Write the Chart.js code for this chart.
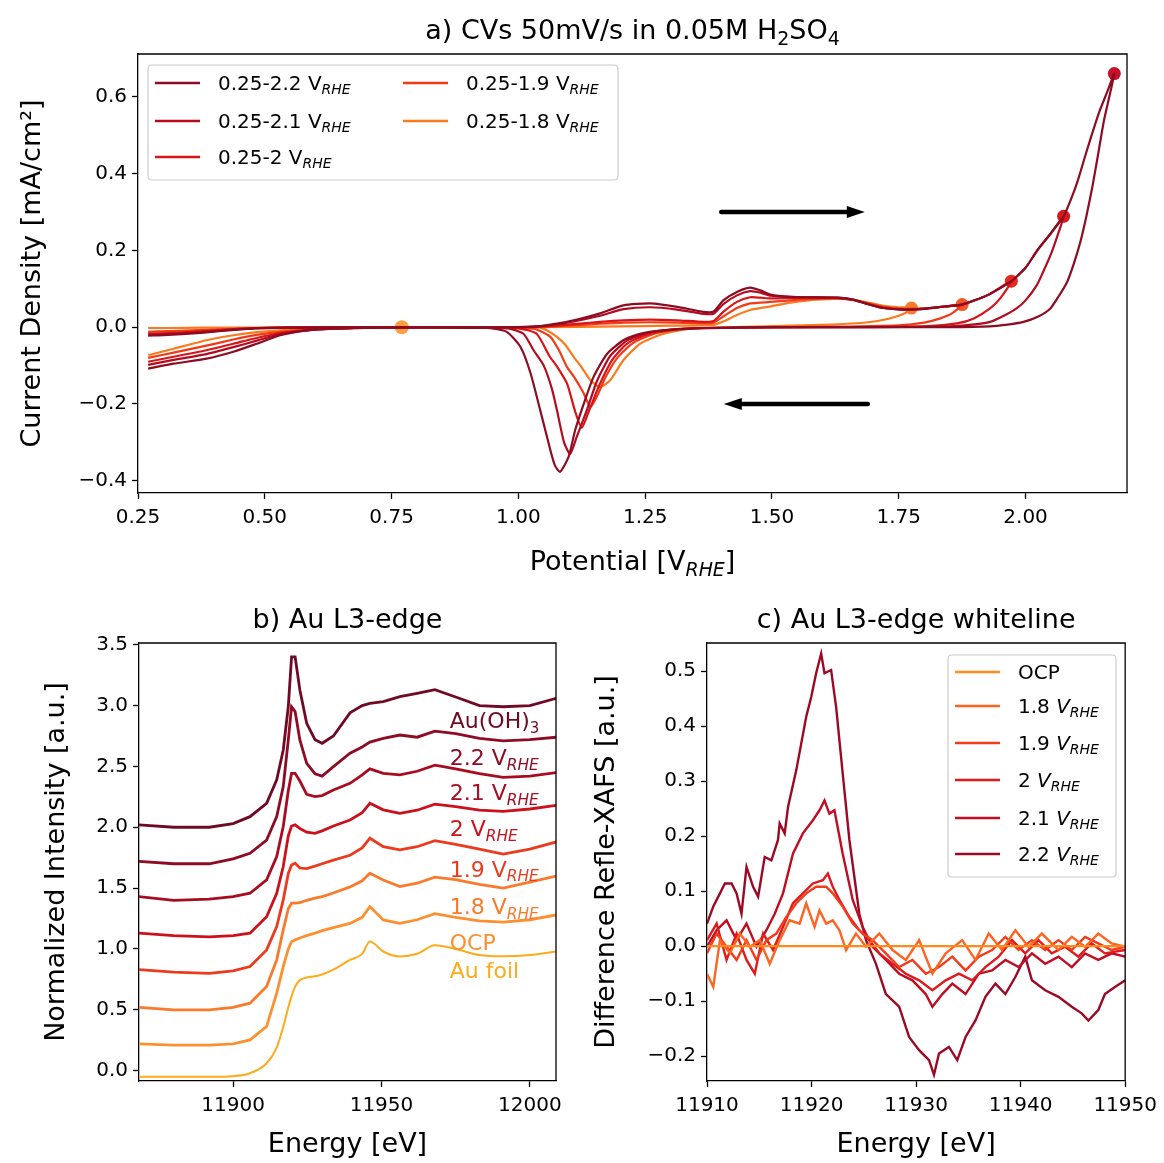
<!DOCTYPE html>
<html><head><meta charset="utf-8">
<script src="https://cdn.jsdelivr.net/npm/chart.js@4"></script>
<style>
html,body{margin:0;padding:0;background:#fff;}
#wrap{position:relative;width:1164px;height:1163px;overflow:hidden;}
canvas{position:absolute;left:0;top:0;}
</style></head><body>
<div id="wrap">
<canvas id="ca" width="1164" height="1163"></canvas>
<canvas id="cb" width="1164" height="1163"></canvas>
<canvas id="cc" width="1164" height="1163"></canvas>
</div>
<script>
// ---------------- Panel a: cyclic voltammograms ----------------
const cv22V = [0.27,0.31,0.38,0.44,0.48,0.55,0.7,0.9,1.0,1.036,1.07,1.109,1.161,1.207,1.26,1.313,1.365,1.385,1.404,1.431,1.457,1.477,1.497,1.536,1.58,1.63,1.66,1.69,1.72,1.76,1.8,1.84,1.875,1.924,1.972,2.0,2.023,2.05,2.075,2.09,2.102,2.115,2.128,2.145,2.16,2.175,
  2.165,2.154,2.143,2.131,2.12,2.108,2.095,2.082,2.065,2.049,2.025,1.996,1.96,1.93,1.85,1.7,1.5,1.35,1.286,1.24,1.207,1.175,1.148,1.129,1.112,1.099,1.082,1.072,1.063,1.043,1.024,1.004,0.977,0.94,0.8,0.7,0.635,0.583,0.53,0.484,0.438,0.385,0.32,0.27];
const cv22I = [-0.022,-0.02,-0.014,-0.007,-0.003,-0.001,0.0,0.0,0.0,0.002,0.008,0.018,0.036,0.057,0.062,0.053,0.04,0.041,0.07,0.092,0.103,0.096,0.085,0.079,0.078,0.077,0.072,0.06,0.05,0.046,0.048,0.054,0.059,0.083,0.12,0.155,0.2,0.245,0.289,0.335,0.378,0.435,0.491,0.56,0.61,0.661,
  0.6,0.535,0.45,0.361,0.29,0.222,0.165,0.118,0.08,0.049,0.028,0.014,0.006,0.002,0.0,0.0,0.0,-0.003,-0.008,-0.017,-0.034,-0.069,-0.13,-0.199,-0.268,-0.338,-0.377,-0.36,-0.32,-0.216,-0.12,-0.051,-0.012,-0.002,-0.001,-0.002,-0.004,-0.008,-0.021,-0.043,-0.064,-0.082,-0.095,-0.108];
const cv21V = [0.27,0.31,0.38,0.44,0.48,0.55,0.7,0.9,1.0,1.036,1.07,1.109,1.161,1.207,1.26,1.313,1.365,1.385,1.404,1.431,1.457,1.477,1.497,1.536,1.58,1.63,1.66,1.69,1.72,1.76,1.8,1.84,1.875,1.924,1.972,2.0,2.023,2.05,2.075,
  2.062,2.049,2.035,2.022,2.0,1.983,1.96,1.93,1.89,1.85,1.7,1.5,1.36,1.3,1.253,1.214,1.181,1.155,1.135,1.115,1.102,1.09,1.076,1.066,1.05,1.03,1.01,0.98,0.9,0.7,0.635,0.583,0.53,0.484,0.438,0.385,0.32,0.27];
const cv21I = [-0.02,-0.018,-0.012,-0.006,-0.003,-0.001,0.0,0.0,0.0,0.002,0.007,0.015,0.03,0.047,0.052,0.046,0.035,0.035,0.06,0.083,0.094,0.09,0.082,0.079,0.078,0.077,0.072,0.06,0.05,0.046,0.048,0.054,0.059,0.083,0.12,0.155,0.2,0.245,0.289,
  0.235,0.187,0.145,0.109,0.07,0.05,0.032,0.014,0.006,0.002,0.0,0.0,-0.002,-0.006,-0.015,-0.035,-0.075,-0.14,-0.216,-0.286,-0.33,-0.3,-0.216,-0.16,-0.1,-0.06,-0.017,-0.003,-0.001,-0.001,-0.004,-0.008,-0.018,-0.035,-0.052,-0.07,-0.085,-0.098];
const cv20V = [0.27,0.31,0.38,0.44,0.48,0.55,0.7,0.9,1.0,1.036,1.109,1.161,1.207,1.26,1.313,1.365,1.385,1.404,1.431,1.457,1.477,1.497,1.536,1.58,1.63,1.66,1.69,1.72,1.76,1.8,1.84,1.875,1.924,1.972,
  1.95,1.93,1.898,1.865,1.8,1.6,1.36,1.3,1.255,1.215,1.185,1.16,1.14,1.125,1.112,1.096,1.075,1.062,1.036,1.0,0.9,0.7,0.635,0.583,0.53,0.484,0.438,0.385,0.32,0.27];
const cv20I = [-0.017,-0.015,-0.01,-0.005,-0.002,-0.001,0.0,0.0,0.0,0.001,0.008,0.014,0.018,0.02,0.018,0.014,0.016,0.04,0.066,0.078,0.077,0.075,0.076,0.077,0.076,0.071,0.06,0.05,0.046,0.048,0.054,0.059,0.083,0.12,
  0.075,0.049,0.023,0.01,0.002,0.0,-0.002,-0.007,-0.018,-0.042,-0.085,-0.15,-0.215,-0.262,-0.22,-0.147,-0.1,-0.077,-0.017,-0.003,-0.001,-0.001,-0.004,-0.008,-0.015,-0.028,-0.043,-0.06,-0.077,-0.09];
const cv19V = [0.27,0.31,0.38,0.44,0.48,0.55,0.7,0.9,1.0,1.036,1.109,1.161,1.207,1.26,1.313,1.365,1.385,1.404,1.431,1.457,1.477,1.497,1.536,1.58,1.63,1.66,1.69,1.72,1.76,1.8,1.84,1.875,
  1.855,1.832,1.8,1.75,1.6,1.37,1.31,1.265,1.225,1.195,1.172,1.155,1.142,1.128,1.11,1.096,1.08,1.063,1.03,0.9,0.7,0.635,0.583,0.53,0.484,0.438,0.385,0.32,0.27];
const cv19I = [-0.012,-0.01,-0.007,-0.004,-0.002,-0.001,0.0,0.0,0.0,0.0,0.005,0.009,0.012,0.013,0.012,0.01,0.012,0.028,0.05,0.062,0.064,0.066,0.07,0.074,0.075,0.071,0.062,0.053,0.048,0.049,0.054,0.059,
  0.036,0.023,0.012,0.005,0.001,-0.002,-0.007,-0.018,-0.042,-0.08,-0.13,-0.18,-0.208,-0.17,-0.13,-0.104,-0.06,-0.025,-0.004,-0.001,-0.001,-0.003,-0.006,-0.012,-0.02,-0.032,-0.048,-0.066,-0.08];
const cv18V = [0.27,0.31,0.38,0.48,0.55,0.7,0.9,1.036,1.2,1.3,1.385,1.404,1.431,1.457,1.5,1.536,1.58,1.62,1.65,1.69,1.72,1.75,1.775,
  1.76,1.73,1.69,1.62,1.5,1.339,1.286,1.24,1.207,1.181,1.161,1.142,1.125,1.109,1.092,1.076,1.055,1.036,0.9,0.7,0.635,0.583,0.53,0.484,0.438,0.385,0.32,0.27];
const cv18I = [-0.002,-0.002,-0.001,-0.001,0.0,0.0,0.0,0.0,0.002,0.004,0.006,0.015,0.032,0.045,0.055,0.064,0.071,0.074,0.073,0.064,0.056,0.052,0.05,
  0.035,0.022,0.013,0.007,0.003,-0.004,-0.017,-0.043,-0.086,-0.138,-0.156,-0.138,-0.105,-0.077,-0.045,-0.025,-0.007,0.0,0.0,-0.001,-0.002,-0.004,-0.008,-0.013,-0.021,-0.034,-0.056,-0.073];
const cvLimitV = [2.175, 2.075, 1.972, 1.875, 1.775];
const cvLimitI = [0.661, 0.289, 0.12, 0.059, 0.05];
const ocpDotV = [0.77];
const ocpDotI = [0.0];
const cvNames = ['0.25-2.2', '0.25-2.1', '0.25-2', '0.25-1.9', '0.25-1.8'];
const cvXTicks = [0.25, 0.5, 0.75, 1.0, 1.25, 1.5, 1.75, 2.0];
const cvXTickLabels = ['0.25','0.50','0.75','1.00','1.25','1.50','1.75','2.00'];
const cvYTicks = [-0.4, -0.2, 0.0, 0.2, 0.4, 0.6];
const cvYTickLabels = ['\u22120.4','\u22120.2','0.0','0.2','0.4','0.6'];

// ---------------- Panel b: Au L3-edge XANES ----------------
const xanesE = [11868,11880,11892,11900,11905.7,11911.3,11914.7,11916.9,11918.6,11919.7,11920.9,11922.5,11924.8,11927.6,11930,11933.8,11939.4,11943.5,11946.1,11950.6,11956.2,11962,11968,11975,11983,11991,12000,12009];
const xanesAuOH3 = [2.02,2.00,2.00,2.03,2.087,2.197,2.389,2.635,2.99,3.40,3.40,3.128,2.854,2.72,2.69,2.75,2.94,3.0,3.018,3.032,3.073,3.10,3.13,3.07,3.0,2.99,3.0,3.06];
const xanes22 = [1.72,1.70,1.70,1.74,1.786,1.895,2.087,2.334,2.717,2.99,2.95,2.717,2.525,2.44,2.42,2.498,2.608,2.66,2.70,2.73,2.758,2.74,2.79,2.77,2.73,2.71,2.72,2.74];
const xanes21 = [1.43,1.40,1.41,1.43,1.458,1.568,1.76,2.006,2.3,2.443,2.443,2.38,2.27,2.252,2.26,2.306,2.361,2.43,2.48,2.443,2.43,2.46,2.51,2.48,2.44,2.41,2.42,2.45];
const xanes20 = [1.13,1.11,1.10,1.11,1.13,1.265,1.458,1.677,1.93,2.01,2.02,1.99,1.96,1.95,1.97,2.01,2.06,2.12,2.197,2.143,2.115,2.14,2.19,2.17,2.14,2.13,2.15,2.18];
const xanes19 = [0.83,0.81,0.80,0.82,0.855,0.992,1.184,1.403,1.62,1.69,1.704,1.665,1.66,1.68,1.70,1.73,1.77,1.83,1.91,1.841,1.814,1.84,1.89,1.86,1.82,1.78,1.82,1.88];
const xanes18 = [0.52,0.50,0.50,0.52,0.554,0.691,0.910,1.157,1.33,1.376,1.376,1.38,1.40,1.417,1.43,1.46,1.51,1.56,1.622,1.567,1.513,1.54,1.59,1.57,1.53,1.50,1.55,1.60];
const xanesOCP = [0.22,0.21,0.21,0.22,0.253,0.363,0.637,0.855,1.0,1.06,1.075,1.09,1.11,1.13,1.15,1.175,1.21,1.26,1.348,1.239,1.211,1.24,1.29,1.26,1.23,1.22,1.24,1.28];
const xanesAuFoil = [-0.05,-0.05,-0.05,-0.045,-0.021,0.061,0.19,0.36,0.52,0.61,0.69,0.745,0.765,0.775,0.79,0.83,0.91,0.96,1.061,0.979,0.938,0.96,1.03,1.0,0.95,0.94,0.95,0.98];
const xanesXTicks = [11900, 11950, 12000];
const xanesXTickLabels = ['11900','11950','12000'];
const xanesYTicks = [0, 0.5, 1, 1.5, 2, 2.5, 3, 3.5];
const xanesYTickLabels = ['0.0','0.5','1.0','1.5','2.0','2.5','3.0','3.5'];

// ---------------- Panel c: whiteline differences ----------------
const diffOCP_E = [11910, 11950];
const diffOCP = [0, 0];
const diff18_E = [11910.0,11910.60,11911.24,11912.19,11913.14,11914.10,11915.05,11916.0,11916.95,11917.90,11918.86,11919.49,11920.29,11920.76,11921.40,11922.03,11922.67,11923.30,11924.25,11925.21,11926.48,11927.75,11929.02,11930.29,11931.56,11932.83,11934.41,11935.68,11936.95,11938.22,11939.49,11940.76,11942.03,11943.62,11944.89,11946.16,11947.43,11948.70,11950.0];
const diff18 = [-0.050,-0.074,0.011,-0.013,0.023,-0.001,0.011,-0.032,0.011,0.047,0.041,0.078,0.035,0.065,0.041,0.047,0.029,-0.007,0.023,-0.001,0.023,-0.007,-0.025,0.011,-0.050,-0.013,0.011,-0.025,0.023,-0.007,0.029,-0.001,0.023,-0.007,0.017,-0.001,0.023,0.005,-0.001];
const diff19_E = [11910.0,11910.92,11911.87,11912.83,11913.78,11914.73,11915.68,11916.63,11917.59,11918.54,11919.49,11920.44,11921.40,11922.03,11922.98,11923.94,11924.89,11925.84,11927.11,11928.38,11929.65,11930.92,11932.19,11933.46,11934.73,11936.0,11937.27,11938.54,11939.81,11941.08,11942.35,11943.62,11944.89,11946.16,11947.43,11948.70,11950.0];
const diff19 = [-0.013,0.023,-0.001,-0.025,0.011,-0.025,0.011,0.023,0.053,0.078,0.096,0.108,0.108,0.096,0.072,0.041,0.023,0.011,-0.013,-0.038,-0.025,-0.050,-0.038,-0.019,-0.044,-0.019,-0.007,0.017,-0.007,0.011,-0.007,0.011,-0.007,0.017,0.005,-0.007,-0.001];
const diff20_E = [11910.0,11910.92,11911.87,11912.83,11913.78,11914.57,11915.37,11916.32,11917.27,11918.22,11919.17,11920.13,11921.08,11921.56,11922.03,11922.67,11923.62,11924.57,11925.52,11926.48,11927.75,11929.02,11930.29,11931.56,11932.83,11934.10,11935.37,11936.63,11937.90,11939.17,11940.44,11941.71,11942.98,11944.25,11945.52,11946.79,11948.06,11950.0];
const diff20 = [0.011,0.041,-0.025,0.023,-0.025,-0.050,0.023,-0.007,0.035,0.078,0.096,0.114,0.120,0.132,0.108,0.084,0.053,0.029,0.011,-0.013,-0.032,-0.050,-0.062,-0.080,-0.062,-0.050,-0.062,-0.038,-0.019,0.011,-0.013,0.011,-0.013,-0.001,-0.019,0.005,-0.013,-0.007];
const diff21_E = [11910.0,11910.92,11911.87,11912.83,11913.78,11914.73,11915.68,11916.48,11917.27,11918.22,11919.17,11920.13,11920.76,11921.24,11921.71,11922.19,11922.98,11923.94,11924.89,11925.84,11927.11,11928.38,11929.65,11930.92,11931.56,11932.51,11933.46,11934.73,11936.0,11937.27,11938.54,11939.81,11941.08,11942.35,11943.62,11944.89,11946.16,11947.43,11948.70,11950.0];
const diff21 = [-0.001,0.029,0.047,0.011,0.041,-0.001,0.029,0.059,0.096,0.168,0.205,0.229,0.247,0.265,0.241,0.247,0.168,0.084,0.035,-0.001,-0.025,-0.050,-0.062,-0.087,-0.110,-0.087,-0.068,-0.087,-0.050,-0.044,-0.025,-0.038,-0.013,-0.032,-0.019,-0.038,-0.013,-0.025,-0.013,-0.019];
const diff22_E = [11910.0,11910.6,11911.24,11911.71,11912.35,11912.83,11913.3,11913.78,11914.41,11914.89,11915.52,11916.16,11916.79,11916.95,11917.43,11917.75,11918.54,11919.49,11919.97,11920.44,11920.92,11921.24,11921.87,11922.35,11922.98,11923.62,11924.57,11925.21,11926.16,11927.11,11928.38,11929.33,11930.29,11931.24,11931.71,11932.19,11933.14,11933.94,11934.73,11935.68,11936.63,11937.59,11938.54,11939.49,11940.44,11941.08,11942.35,11943.62,11944.89,11945.84,11946.48,11947.43,11948.06,11949.02,11950.0];
const diff22 = [0.041,0.072,0.096,0.114,0.114,0.096,0.059,0.144,0.108,0.090,0.162,0.156,0.193,0.223,0.205,0.253,0.320,0.417,0.453,0.496,0.532,0.496,0.502,0.435,0.314,0.193,0.059,0.011,-0.032,-0.087,-0.110,-0.165,-0.189,-0.207,-0.234,-0.195,-0.183,-0.207,-0.165,-0.135,-0.092,-0.068,-0.087,-0.056,-0.019,-0.062,-0.080,-0.092,-0.110,-0.122,-0.135,-0.116,-0.087,-0.074,-0.062];
const diffNames = ['OCP', '1.8', '1.9', '2', '2.1', '2.2'];
const diffXTicks = [11910, 11920, 11930, 11940, 11950];
const diffXTickLabels = ['11910','11920','11930','11940','11950'];
const diffYTicks = [-0.2, -0.1, 0, 0.1, 0.2, 0.3, 0.4, 0.5];
const diffYTickLabels = ['\u22120.2','\u22120.1','0.0','0.1','0.2','0.3','0.4','0.5'];

// ---------------- helpers ----------------
const FONT = "'DejaVu Sans', 'Liberation Sans', sans-serif";
Chart.defaults.font.family = FONT;
function pts(xs, ys) { return xs.map((x, i) => ({x: x, y: ys[i]})); }
function P(t, size, o) { o = o || {}; return {t: t, size: size, italic: !!o.italic, dy: o.dy || 0}; }
function rhe(prefix, size, italicV) {
  const sub = P('RHE', size * 0.7, {italic: true, dy: size * 0.22});
  if (italicV) return [P(prefix, size), P('V', size, {italic: true}), sub];
  return [P(prefix + 'V', size), sub];
}
function fontOf(p) { return (p.italic ? 'italic ' : '') + p.size + 'px ' + FONT; }
function partsWidth(ctx, parts) { let w = 0; parts.forEach(p => { ctx.font = fontOf(p); w += ctx.measureText(p.t).width; }); return w; }
function drawParts(ctx, parts, x, y, align, color) {
  const w = partsWidth(ctx, parts);
  let cx = align === 'center' ? x - w / 2 : (align === 'right' ? x - w : x);
  ctx.save(); ctx.fillStyle = color || '#000'; ctx.textAlign = 'left'; ctx.textBaseline = 'alphabetic';
  parts.forEach(p => { ctx.font = fontOf(p); ctx.fillText(p.t, cx, y + p.dy); cx += ctx.measureText(p.t).width; });
  ctx.restore();
}
function drawRotParts(ctx, parts, cx, cy, color) {
  ctx.save(); ctx.translate(cx, cy); ctx.rotate(-Math.PI / 2);
  drawParts(ctx, parts, 0, 0, 'center', color); ctx.restore();
}
function roundRect(ctx, x, y, w, h, r) {
  ctx.beginPath(); ctx.moveTo(x + r, y); ctx.lineTo(x + w - r, y); ctx.quadraticCurveTo(x + w, y, x + w, y + r);
  ctx.lineTo(x + w, y + h - r); ctx.quadraticCurveTo(x + w, y + h, x + w - r, y + h); ctx.lineTo(x + r, y + h);
  ctx.quadraticCurveTo(x, y + h, x, y + h - r); ctx.lineTo(x, y + r); ctx.quadraticCurveTo(x, y, x + r, y); ctx.closePath();
}
function axis(min, max, ticks, labels, isX, fit) {
  return {
    type: 'linear', min: min, max: max, bounds: 'data', position: isX ? 'bottom' : 'left',
    afterBuildTicks: s => { s.ticks = ticks.map(v => ({value: v})); },
    afterFit: s => { if (isX) s.height = fit; else s.width = fit; },
    ticks: { callback: (v, i) => labels[i], color: '#000', font: {family: FONT, size: 20}, padding: isX ? 7 : 5, maxRotation: 0, autoSkip: false },
    grid: { display: true, drawOnChartArea: false, drawTicks: true, tickLength: 6, tickWidth: 1.3, tickColor: '#000' },
    border: { display: true, color: '#000', width: 1.3 }
  };
}
function frame(chart) {
  const a = chart.chartArea, ctx = chart.ctx;
  ctx.save(); ctx.strokeStyle = '#000'; ctx.lineWidth = 1.3;
  ctx.beginPath(); ctx.moveTo(a.left, a.top); ctx.lineTo(a.right, a.top); ctx.lineTo(a.right, a.bottom); ctx.stroke();
  ctx.restore();
}
function line(data, color, width, tension) {
  return {data: data, borderColor: color, backgroundColor: color, borderWidth: width, pointRadius: 0, showLine: true, fill: false, tension: tension || 0};
}
function dot(data, color, r) {
  return {data: data, borderColor: color, backgroundColor: color, pointBackgroundColor: color, pointBorderWidth: 0, pointRadius: r, showLine: false};
}
const baseOpts = { responsive: false, animation: false, devicePixelRatio: 1, events: [],
  plugins: { legend: {display: false}, tooltip: {enabled: false}, title: {display: false} } };

// ---------------- Chart a ----------------
const cvColors = ['#8e0c22', '#b20c20', '#d81418', '#f23a16', '#fb7a1c'];
const dotColors = ['#c8102a', '#d8181c', '#e8281c', '#f2582a', '#f87c2c'];
const ocpDotColor = '#fd9e40';
const cvArrows = [[1.40, 0.30, 1.683, 0.30], [1.689, -0.20, 1.405, -0.20]];
new Chart(document.getElementById('ca'), {
  type: 'scatter',
  data: { datasets: [
    line(pts(cv22V, cv22I), cvColors[0], 2.2, 0.2),
    line(pts(cv21V, cv21I), cvColors[1], 2.2, 0.2),
    line(pts(cv20V, cv20I), cvColors[2], 2.2, 0.2),
    line(pts(cv19V, cv19I), cvColors[3], 2.2, 0.2),
    line(pts(cv18V, cv18I), cvColors[4], 2.2, 0.2),
    ...cvLimitV.map((v, i) => dot([{x: v, y: cvLimitI[i]}], dotColors[i], 6.5)),
    dot(pts(ocpDotV, ocpDotI), ocpDotColor, 7)
  ]},
  options: Object.assign({}, baseOpts, {
    layout: { padding: {left: 68, right: 37, top: 54, bottom: 630} },
    scales: { x: axis(0.25, 2.2, cvXTicks, cvXTickLabels, true, 40), y: axis(-0.432, 0.712, cvYTicks, cvYTickLabels, false, 70) }
  }),
  plugins: [{ id: 'decorA', afterDraw(chart) {
    const ctx = chart.ctx, a = chart.chartArea, sx = chart.scales.x, sy = chart.scales.y;
    frame(chart);
    ctx.save(); ctx.strokeStyle = '#000'; ctx.fillStyle = '#000'; ctx.lineWidth = 4.5; ctx.lineCap = 'round';
    cvArrows.forEach(ar => {
      const x1 = sx.getPixelForValue(ar[0]), y1 = sy.getPixelForValue(ar[1]);
      const x2 = sx.getPixelForValue(ar[2]), y2 = sy.getPixelForValue(ar[3]);
      const dir = Math.sign(x2 - x1), hl = 18, hw = 6;
      ctx.beginPath(); ctx.moveTo(x1, y1); ctx.lineTo(x2 - dir * hl, y2); ctx.stroke();
      ctx.beginPath(); ctx.moveTo(x2, y2); ctx.lineTo(x2 - dir * hl, y2 - hw); ctx.lineTo(x2 - dir * hl, y2 + hw); ctx.closePath(); ctx.fill();
    });
    ctx.restore();
    ctx.save(); roundRect(ctx, 148, 65, 470, 115, 4); ctx.fillStyle = 'rgba(255,255,255,0.85)'; ctx.fill();
    ctx.strokeStyle = '#cccccc'; ctx.lineWidth = 1.2; ctx.stroke(); ctx.restore();
    const pos = [[155, 83], [155, 121], [155, 157], [403, 83], [403, 121]];
    cvNames.forEach((n, i) => {
      const [lx, ly] = pos[i];
      ctx.save(); ctx.strokeStyle = cvColors[i]; ctx.lineWidth = 2.5; ctx.beginPath(); ctx.moveTo(lx, ly); ctx.lineTo(lx + 45, ly); ctx.stroke(); ctx.restore();
      drawParts(ctx, rhe(n + ' ', 20, false), lx + 63, ly + 7, 'left', '#000');
    });
    drawParts(ctx, [P('a) CVs 50mV/s in 0.05M H', 27), P('2', 19, {dy: 6}), P('SO', 27), P('4', 19, {dy: 6})], (a.left + a.right) / 2, 39, 'center', '#000');
    drawParts(ctx, rhe('Potential [', 27, false).concat([P(']', 27)]), (a.left + a.right) / 2, 570, 'center', '#000');
    drawRotParts(ctx, [P('Current Density [mA/cm\u00b2]', 27)], 40, (a.top + a.bottom) / 2, '#000');
  }}]
});

// ---------------- Chart b ----------------
const xanesColors = ['#6e0a25', '#8f0b23', '#a80c21', '#cc101c', '#ec3a1e', '#f97a2a', '#fc9030', '#fdab1a'];
const xanesSeries = [xanesAuOH3, xanes22, xanes21, xanes20, xanes19, xanes18, xanesOCP, xanesAuFoil];
const xanesLabelPos = [[11973, 2.88], [11973, 2.58], [11973, 2.29], [11973, 1.99], [11973, 1.66], [11973, 1.35], [11973, 1.06], [11973, 0.83]];
new Chart(document.getElementById('cb'), {
  type: 'scatter',
  data: { datasets: xanesSeries.slice().reverse().map((s, k) => {
    const ds = line(pts(xanesE, s), xanesColors[xanesSeries.length - 1 - k], k === 0 ? 2 : 2.8, 0);
    if (k === 0) ds.cubicInterpolationMode = 'monotone';
    return ds;
  }) },
  options: Object.assign({}, baseOpts, {
    layout: { padding: {left: 69, right: 608, top: 643, bottom: 42} },
    scales: { x: axis(11868.3, 12008.8, xanesXTicks, xanesXTickLabels, true, 40), y: axis(-0.085, 3.514, xanesYTicks, xanesYTickLabels, false, 70) }
  }),
  plugins: [{ id: 'decorB', afterDraw(chart) {
    const ctx = chart.ctx, a = chart.chartArea, sx = chart.scales.x, sy = chart.scales.y;
    frame(chart);
    const names = [[P('Au(OH)', 22), P('3', 15, {dy: 5})], rhe('2.2 ', 22), rhe('2.1 ', 22), rhe('2 ', 22), rhe('1.9 ', 22), rhe('1.8 ', 22), [P('OCP', 22)], [P('Au foil', 22)]];
    names.forEach((parts, i) => {
      const [e, v] = xanesLabelPos[i];
      drawParts(ctx, parts, sx.getPixelForValue(e), sy.getPixelForValue(v) + 8, 'left', xanesColors[i]);
    });
    drawParts(ctx, [P('b) Au L3-edge', 27)], (a.left + a.right) / 2, 628, 'center', '#000');
    drawParts(ctx, [P('Energy [eV]', 27)], (a.left + a.right) / 2, 1152, 'center', '#000');
    drawRotParts(ctx, [P('Normalized Intensity [a.u.]', 27)], 64, (a.top + a.bottom) / 2, '#000');
  }}]
});

// ---------------- Chart c ----------------
const diffColors = ['#fe8a1e', '#fc6420', '#f33a1b', '#de1a1c', '#c00d22', '#9b0a24'];
new Chart(document.getElementById('cc'), {
  type: 'scatter',
  data: { datasets: [
    line(pts(diffOCP_E, diffOCP), diffColors[0], 2.2),
    line(pts(diff18_E, diff18), diffColors[1], 2.4),
    line(pts(diff19_E, diff19), diffColors[2], 2.4),
    line(pts(diff20_E, diff20), diffColors[3], 2.4),
    line(pts(diff21_E, diff21), diffColors[4], 2.4),
    line(pts(diff22_E, diff22), diffColors[5], 2.4)
  ]},
  options: Object.assign({}, baseOpts, {
    layout: { padding: {left: 637, right: 37, top: 643, bottom: 42} },
    scales: { x: axis(11910, 11950, diffXTicks, diffXTickLabels, true, 40), y: axis(-0.245, 0.551, diffYTicks, diffYTickLabels, false, 70) }
  }),
  plugins: [{ id: 'decorC', afterDraw(chart) {
    const ctx = chart.ctx, a = chart.chartArea;
    frame(chart);
    ctx.save(); roundRect(ctx, 948, 655, 168, 222, 4); ctx.fillStyle = 'rgba(255,255,255,0.85)'; ctx.fill();
    ctx.strokeStyle = '#cccccc'; ctx.lineWidth = 1.2; ctx.stroke(); ctx.restore();
    const rows = [672, 706, 743, 780, 818, 854];
    diffNames.forEach((n, i) => {
      const y = rows[i];
      ctx.save(); ctx.strokeStyle = diffColors[i]; ctx.lineWidth = 2.5; ctx.beginPath(); ctx.moveTo(955, y); ctx.lineTo(1000, y); ctx.stroke(); ctx.restore();
      const parts = n === 'OCP' ? [P('OCP', 20)] : rhe(n + ' ', 20, true);
      drawParts(ctx, parts, 1018, y + 7, 'left', '#000');
    });
    drawParts(ctx, [P('c) Au L3-edge whiteline', 27)], (a.left + a.right) / 2, 628, 'center', '#000');
    drawParts(ctx, [P('Energy [eV]', 27)], (a.left + a.right) / 2, 1152, 'center', '#000');
    drawRotParts(ctx, [P('Difference Refle-XAFS [a.u.]', 27)], 614, (a.top + a.bottom) / 2, '#000');
  }}]
});
</script>
</body></html>
